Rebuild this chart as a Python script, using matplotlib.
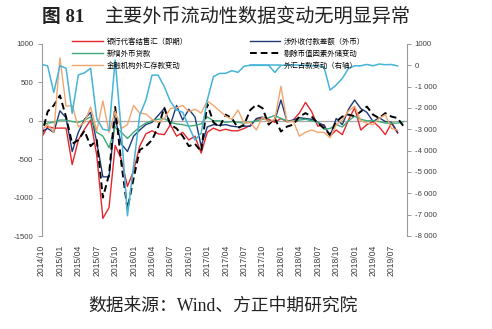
import numpy as np
import pandas as pd
import matplotlib
matplotlib.use("Agg")
import matplotlib.pyplot as plt

nan = np.nan
months = [p.strftime("%Y/%m") for p in pd.period_range("2014-10", "2019-09", freq="M")]

bank_settle = [-220, -75, -95, -95, -95, -570, -250, -110, 10, -450,
               -1270, -1130, -320, -500, -855, -650, -330, -170, -130, -170,
               -180, -50, -200, -150, -250, -200, -420, -150, -95, -130,
               -110, -130, -130, -100, -60, 20, 40, 20, -20, 30,
               -10, 10, 100, 240, 120, -70, -50, -200, -120, -180,
               10, 170, -120, -50, -10, -80, -180, -30, -160, nan]
cross_border = [-140, -100, -150, 130, 40, -400, -150, 20, 110, -280,
                -730, -730, 30, -300, -400, -200, -120, -50, -20, 70,
                160, -50, 200, 10, 150, 50, -330, -80, -50, -60,
                -50, -70, -80, -70, -70, 30, 50, -10, 10, 270,
                -10, 10, 40, 30, 20, -20, -60, -200, 30, -50,
                150, 270, 160, 110, -10, 40, -10, -20, -150, nan]
fx_loans = [-60, -30, -20, 10, 10, -10, -20, 10, 50, -150,
            -200, -350, -80, -150, -230, -150, -80, -30, 0, 20,
            30, -20, -40, -50, -70, -60, -40, 50, 0, 0,
            -20, -10, -20, -30, -20, 0, 20, 40, 70, 30,
            0, -10, 10, 20, 0, -20, -110, -100, -50, -80,
            0, 60, 20, 0, 0, -10, -30, -30, -30, -10]
reserves_adj = [-200, 120, 200, 330, 50, -300, -250, -130, -330, -250,
                -1000, -700, 180, -550, -1150, -750, -380, -330, -250, -80,
                170, -50, -100, -200, -330, -300, -400, 220, -20, -80,
                80, 35, -95, -50, 140, 210, 165, -50, 35, -140,
                -75, -50, 55, 100, 55, -30, -95, -180, -10, 55,
                80, 60, 120, 185, 80, 35, 100, 55, 35, -75]
fx_deposits = [-120, -50, -150, 820, 190, 200, -80, -20, 180, -130,
               260, -150, 120, -100, -50, 200, 100, 90, 20, -20,
               30, 160, 170, 200, 120, 150, 100, 260, 200, 130,
               60, 20, 140, -30, -20, -120, 50, -20, 20, 450,
               -20, 0, -200, -150, -120, -150, -150, -220, -50, 10,
               130, 190, 0, -30, -50, 30, 80, -100, -120, nan]
fx_funds = [50, -30, -1270, -20, -140, -2250, -450, -350, -140, -2500,
            -3000, -3050, 250, -3100, -7050, -4700, -2330, -1630, -460, -460,
            -1000, -1700, -2100, -2200, -2880, -3500, -3180, -1630, -530, -380,
            -375, -250, -330, -40, 0, 0, 0, 0, -330, 0,
            10, 20, 10, 0, -20, -20, -70, -1160, -920, -610,
            -140, -20, -20, 40, -20, 60, 30, 40, -30, nan]

left_ticks = [1000, 500, 0, -500, -1000, -1500]
right_ticks = [1000, 0, -1000, -2000, -3000, -4000, -5000, -6000, -7000, -8000]
right_labels = ["1000", "0", "-1 000", "-2 000", "-3 000", "-4 000", "-5 000",
                "-6 000", "-7 000", "-8 000"]

W, H = 492, 329
fig = plt.figure(figsize=(W / 100, H / 100), dpi=100)
x0, x1, yt, yb = 41.5, 406.5, 44, 236
ax = fig.add_axes([x0 / W, 1 - yb / H, (x1 - x0) / W, (yb - yt) / H])
ax2 = ax.twinx()

x = np.arange(len(months))
c_red, c_blue, c_green, c_orange, c_cyan = "#E8262C", "#1E3B78", "#3DAA78", "#F2A66E", "#45B4D8"
axis_col = "#9A9A9A"
txt_col = "#404040"

ax.axhline(0, color="#A8A8A8", lw=0.9, zorder=1)
h1, = ax.plot(x, bank_settle, color=c_red, lw=1.0)
h2, = ax.plot(x, cross_border, color=c_blue, lw=1.0)
h3, = ax.plot(x, fx_loans, color=c_green, lw=1.0)
h4, = ax.plot(x, reserves_adj, color="black", lw=1.4, ls=(0, (3.5, 2)))
h5, = ax.plot(x, fx_deposits, color=c_orange, lw=1.0)
h6, = ax2.plot(x, fx_funds, color=c_cyan, lw=1.1)

ax.set_xlim(0, 59.45)
ax.set_ylim(-1500, 1000)
ax2.set_ylim(-8000, 1000)

ax.set_yticks(left_ticks)
ax.set_yticklabels([str(v) for v in left_ticks])
ax2.set_yticks(right_ticks)
ax2.set_yticklabels(right_labels)
ax.set_xticks(x[::3])
ax.set_xticklabels(months[::3], rotation=90)

for a in (ax, ax2):
    for s in ("top", "bottom"):
        a.spines[s].set_visible(False)
ax.spines["right"].set_visible(False)
ax2.spines["left"].set_visible(False)
ax.spines["left"].set_color(axis_col)
ax2.spines["right"].set_color(axis_col)
ax.spines["left"].set_linewidth(0.8)
ax2.spines["right"].set_linewidth(0.8)

ax.tick_params(axis="x", length=0, pad=6, labelsize=6.2, labelcolor=txt_col)
ax.tick_params(axis="y", length=3, width=0.7, color=axis_col, pad=3, labelsize=5.6,
               labelcolor=txt_col)
ax2.tick_params(axis="y", length=3, width=0.7, color=axis_col, pad=3, labelsize=5.6,
                labelcolor=txt_col)
for lab in ax.get_xticklabels() + ax.get_yticklabels() + ax2.get_yticklabels():
    lab.set_family("Liberation Sans")

handles = [h1, h3, h5, h2, h4, h6]
labels = ["银行代客结售汇（即期）", "新增外币贷款", "金融机构外汇存款变动",
          "涉外收付款差额（外币）", "剔除币值因素外储变动", "外汇占款变动（右轴）"]
fig.legend(handles, labels, ncol=2, loc="upper left",
           bbox_to_anchor=(72 / W, 1 - 37.5 / H), frameon=False,
           prop={"family": ["Noto Sans CJK SC", "DejaVu Sans"], "size": 5.3},
           handlelength=4.2, handletextpad=0.5, columnspacing=8.4,
           labelspacing=0.55, borderpad=0, borderaxespad=0)

serif_cjk = ["Liberation Serif", "Noto Sans CJK SC"]
fig.text(42 / W, 1 - 17 / H, "图 81", family=serif_cjk, weight="bold",
         fontsize=13.5, va="center", ha="left", color="#222222")
fig.text(105 / W, 1 - 17 / H, "主要外币流动性数据变动无明显异常", family=serif_cjk,
         weight="medium", fontsize=13.8, va="center", ha="left", color="#222222")
fig.text(88 / W, 1 - 306 / H, "数据来源：Wind、方正中期研究院", family=serif_cjk,
         fontsize=12.8, va="center", ha="left", color="#222222")

fig.savefig("out.png", dpi=100, facecolor="white")
